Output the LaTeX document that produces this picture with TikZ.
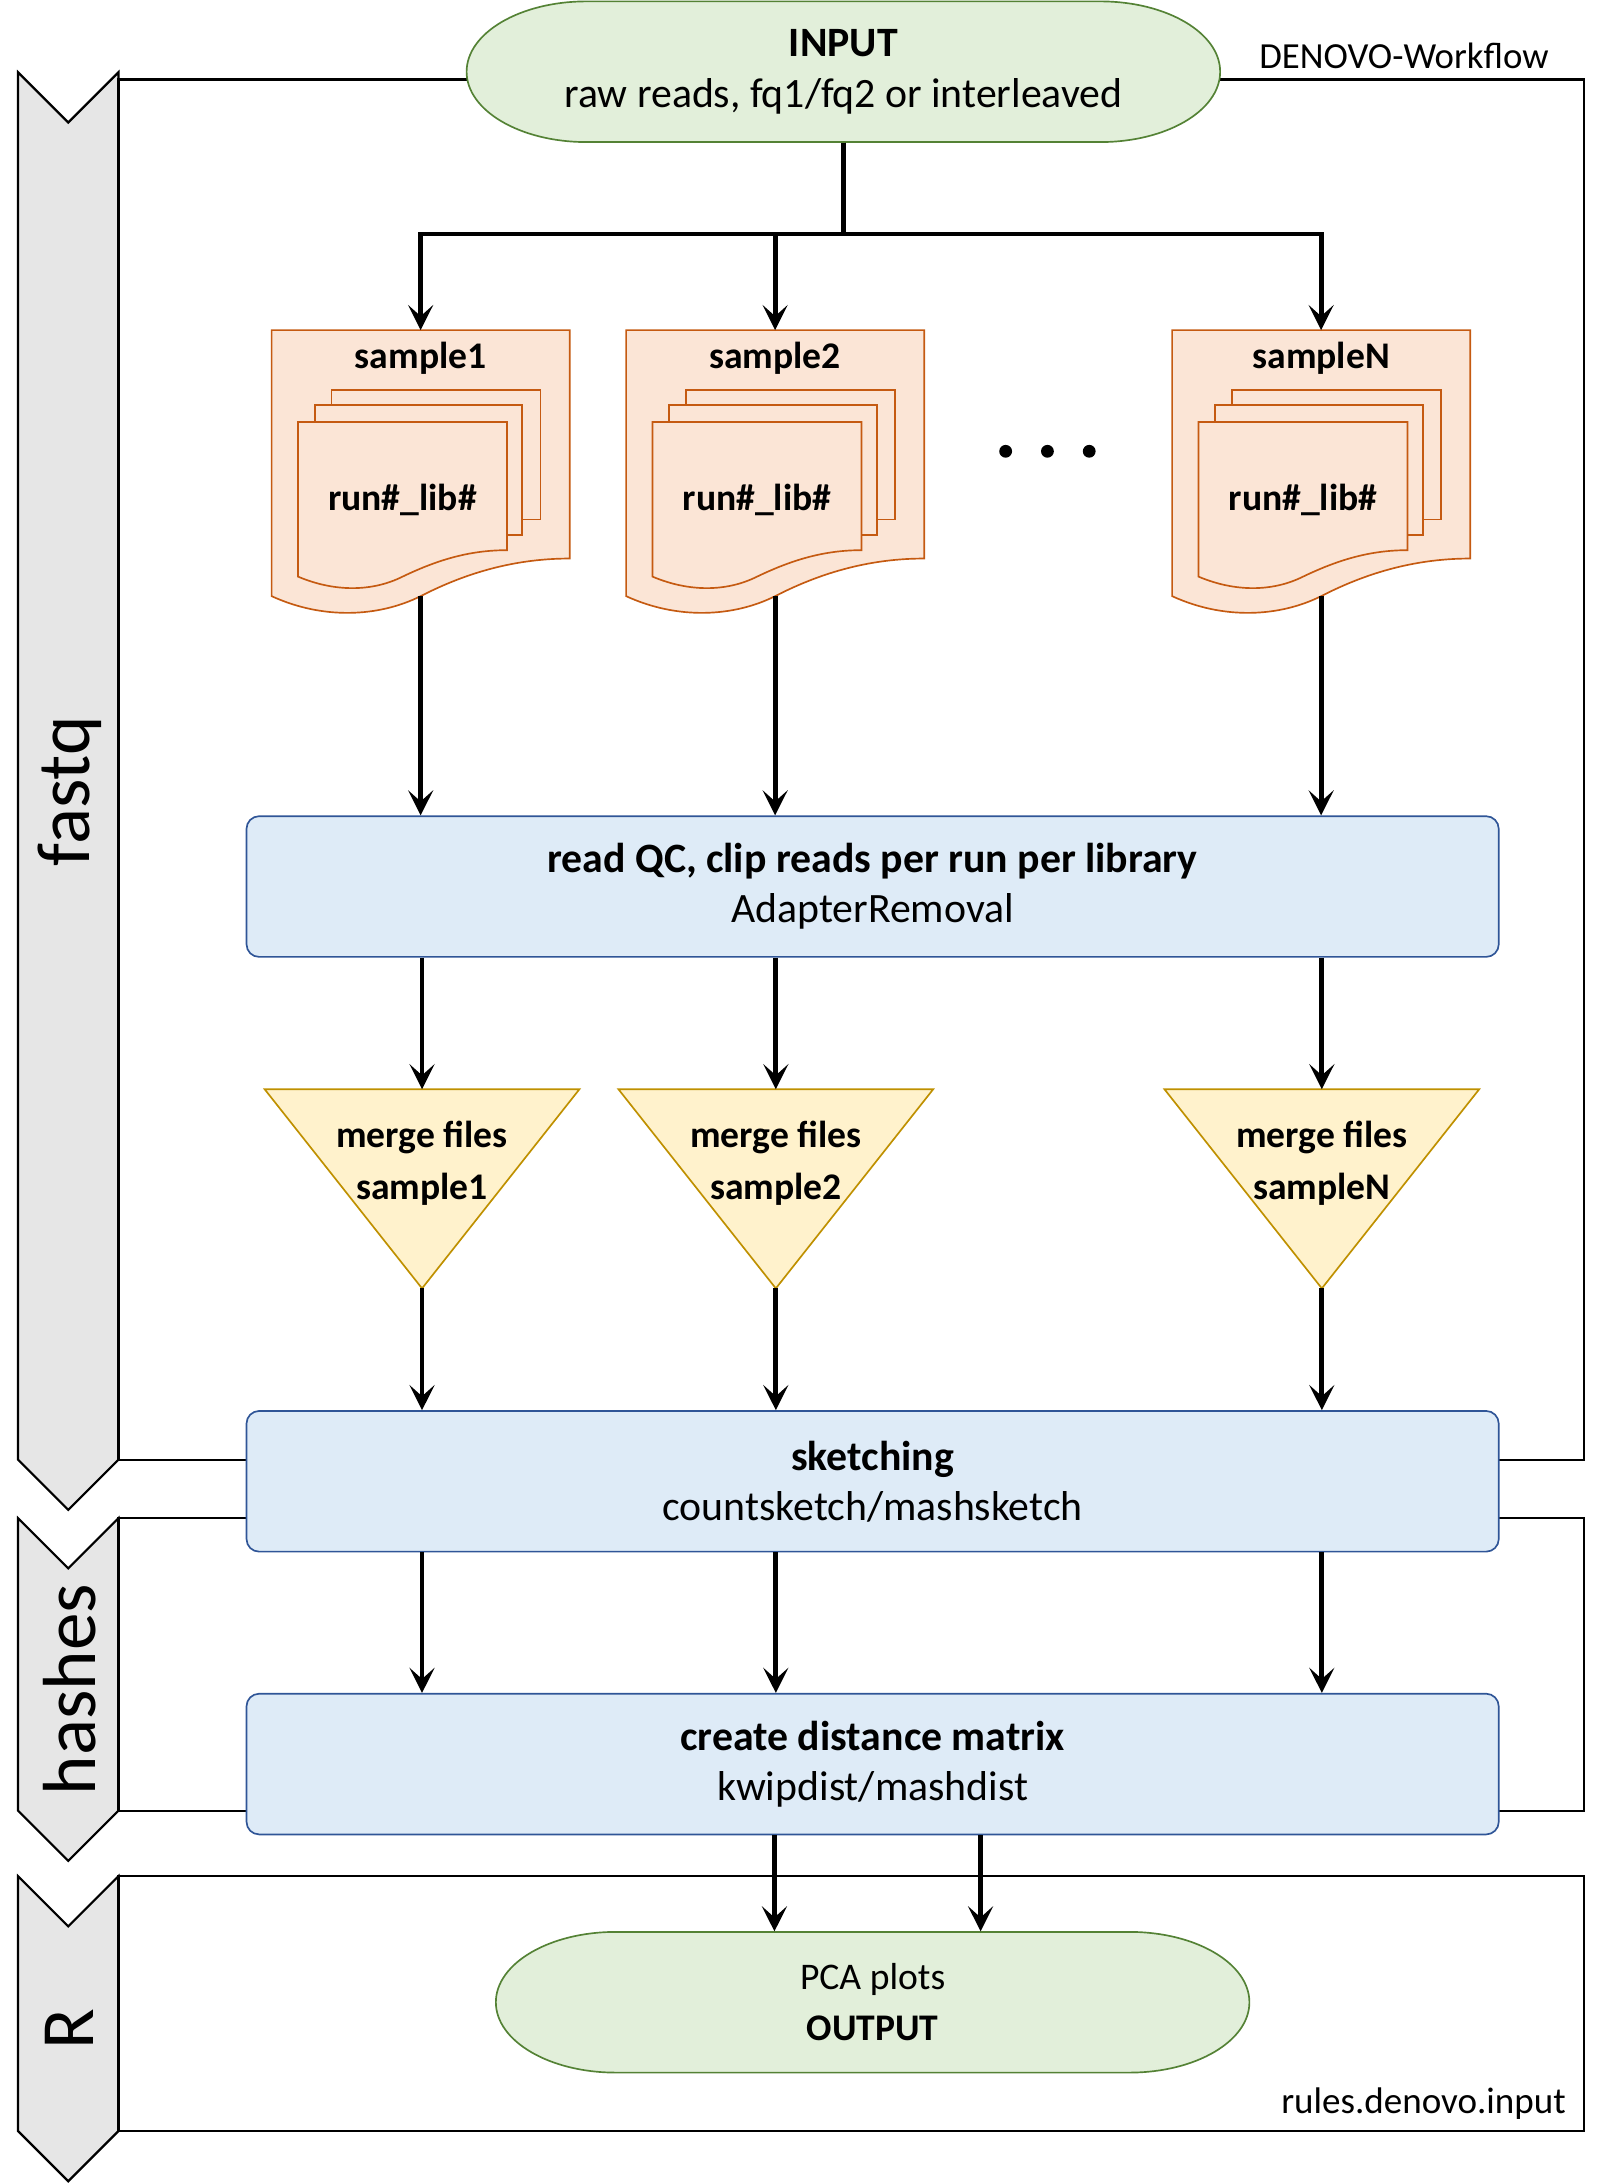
\documentclass[tikz,border=0pt]{standalone}
\usepackage{fontspec}
\setmainfont{Carlito}
\usetikzlibrary{arrows.meta}

\definecolor{laneGray}{HTML}{E6E6E6}
\definecolor{termFill}{HTML}{E2EFDA}
\definecolor{termLine}{HTML}{548235}
\definecolor{docFill}{HTML}{FBE5D6}
\definecolor{docLine}{HTML}{C55A11}
\definecolor{triFill}{HTML}{FFF2CC}
\definecolor{triLine}{HTML}{BF9000}
\definecolor{boxFill}{HTML}{DEEBF7}
\definecolor{boxLine}{HTML}{2F5597}
\newcommand{\bigline}{\fontsize{15}{18}\selectfont}

\begin{document}
\begin{tikzpicture}[x=0.5pt,y=-0.5pt,
    txt/.style={font=\fontsize{13.5}{18.5}\selectfont, align=center, inner sep=0pt},
    bigtxt/.style={font=\fontsize{15}{18}\selectfont, align=center, inner sep=0pt},
    arr/.style={line width=1.7pt, -{Stealth[length=9pt,width=9pt,inset=4pt]}},
    frame/.style={line width=0.8pt},
    lane/.style={line width=0.8pt, fill=laneGray},
    docshape/.style={draw=docLine, fill=docFill, line width=0.6pt},
    process/.style={bigtxt, draw=boxLine, fill=boxFill, line width=0.6pt, rounded corners=4.5pt,
        minimum width=449.5pt, minimum height=50.5pt},
    pics/terminal/.style={code={
        \draw[draw=termLine, fill=termFill, line width=0.6pt] (-184.5,-50.5) -- (184.5,-50.5)
            .. controls (232,-50.5) and (270.5,-27.9) .. (270.5,0)
            .. controls (270.5,27.9) and (232,50.5) .. (184.5,50.5) -- (-184.5,50.5)
            .. controls (-232,50.5) and (-270.5,27.9) .. (-270.5,0)
            .. controls (-270.5,-27.9) and (-232,-50.5) .. (-184.5,-50.5) -- cycle;
        \node[txt, minimum width=270.5pt, minimum height=50.5pt] (-txt) at (0,0) {#1};
    }},
    pics/sampledoc/.style={code={
        \draw[docshape] (-107,0) -- (107,0) -- (107,164) .. controls (70,164) and (35,173) .. (0,191)
            .. controls (-30,206) and (-70,208) .. (-107,191) -- cycle;
        \draw[docshape] (-64,43) rectangle (86,136);
        \draw[docshape] (-76,54) rectangle (73,147);
        \draw[docshape] (-88,66) -- (62,66) -- (62,158) .. controls (35,158) and (12,165) .. (-13,177)
            .. controls (-35,188) and (-62,188) .. (-88,177) -- cycle;
        \node[txt] (-name) at (0,20) {\textbf{#1}};
        \node[txt] (-run) at (-13,122) {\textbf{run\#\_lib\#}};
        \coordinate (-top) at (0,0);
        \coordinate (-bot) at (0,191);
    }},
    pics/mergetri/.style={code={
        \draw[draw=triLine, fill=triFill, line width=0.6pt] (-113,0) -- (113,0) -- (0,143) -- cycle;
        \node[txt] (-txt) at (0,53) {\textbf{merge files}\\\textbf{#1}};
        \coordinate (-top) at (0,0);
        \coordinate (-apex) at (0,143);
    }}
]
\useasboundingbox (0,0) rectangle (1147,1568);

% swim lanes
\foreach \ya/\yf/\yb/\lbl in {52/57/1048/fastq, 1090/1090/1300/hashes, 1347/1347/1530/R}{
    \draw[lane] (13,\ya) -- (49,\ya+36) -- (85,\ya) -- (85,\yb) -- (49,\yb+36) -- (13,\yb) -- cycle;
    \draw[frame] (85,\yf) rectangle (1137,\yb);
    \node[rotate=90, font=\fontsize{27}{30}\selectfont] (lane-\lbl) at (50,{(\ya+\yb+36)/2}) {\lbl};
}
\node[font=\fontsize{13.2}{15}\selectfont] (wf) at (1008,40) {DENOVO-Workflow};
\node[font=\fontsize{13.3}{15}\selectfont] (rules) at (1022,1510) {rules.denovo.input};

% input / output
\pic (in) at (605.5,51.5) {terminal={\bigline\textbf{INPUT}\\\bigline raw reads, fq1/fq2 or interleaved}};
\pic (out) at (626.5,1437.5) {terminal={PCA plots\\\textbf{OUTPUT}}};

% samples
\pic (d1) at (302,237) {sampledoc=sample1};
\pic (d2) at (556.5,237) {sampledoc=sample2};
\pic (dN) at (948.5,237) {sampledoc=sampleN};
\foreach \x in {722,752,782} \fill (\x,324) circle[radius=2.3pt];

% steps
\node[process] (qc) at (626.5,636.5) {\textbf{read QC, clip reads per run per library}\\AdapterRemoval};
\pic (m1) at (303,782) {mergetri=sample1};
\pic (m2) at (557,782) {mergetri=sample2};
\pic (mN) at (949,782) {mergetri=sampleN};
\node[process] (sk) at (626.5,1063.5) {\textbf{sketching}\\countsketch/mashsketch};
\node[process] (dist) at (626.5,1266.5) {\textbf{create distance matrix}\\kwipdist/mashdist};

% connectors
\coordinate (split) at (605.5,168);
\foreach \d/\m in {d1/m1,d2/m2,dN/mN}{
    \draw[arr] (in-txt.south) -- (split) -| (\d-top);
    \draw[arr] (\d-bot) -- (\d-bot |- qc.north);
    \draw[arr] (qc.south -| \m-top) -- (\m-top);
    \draw[arr] (\m-apex) -- (\m-apex |- sk.north);
    \draw[arr] (sk.south -| \m-apex) -- (\m-apex |- dist.north);
}
\draw[arr] ([xshift=-35.25pt]dist.south) -- ([xshift=-35.25pt]out-txt.north);
\draw[arr] ([xshift=38.75pt]dist.south) -- ([xshift=38.75pt]out-txt.north);
\end{tikzpicture}
\end{document}
